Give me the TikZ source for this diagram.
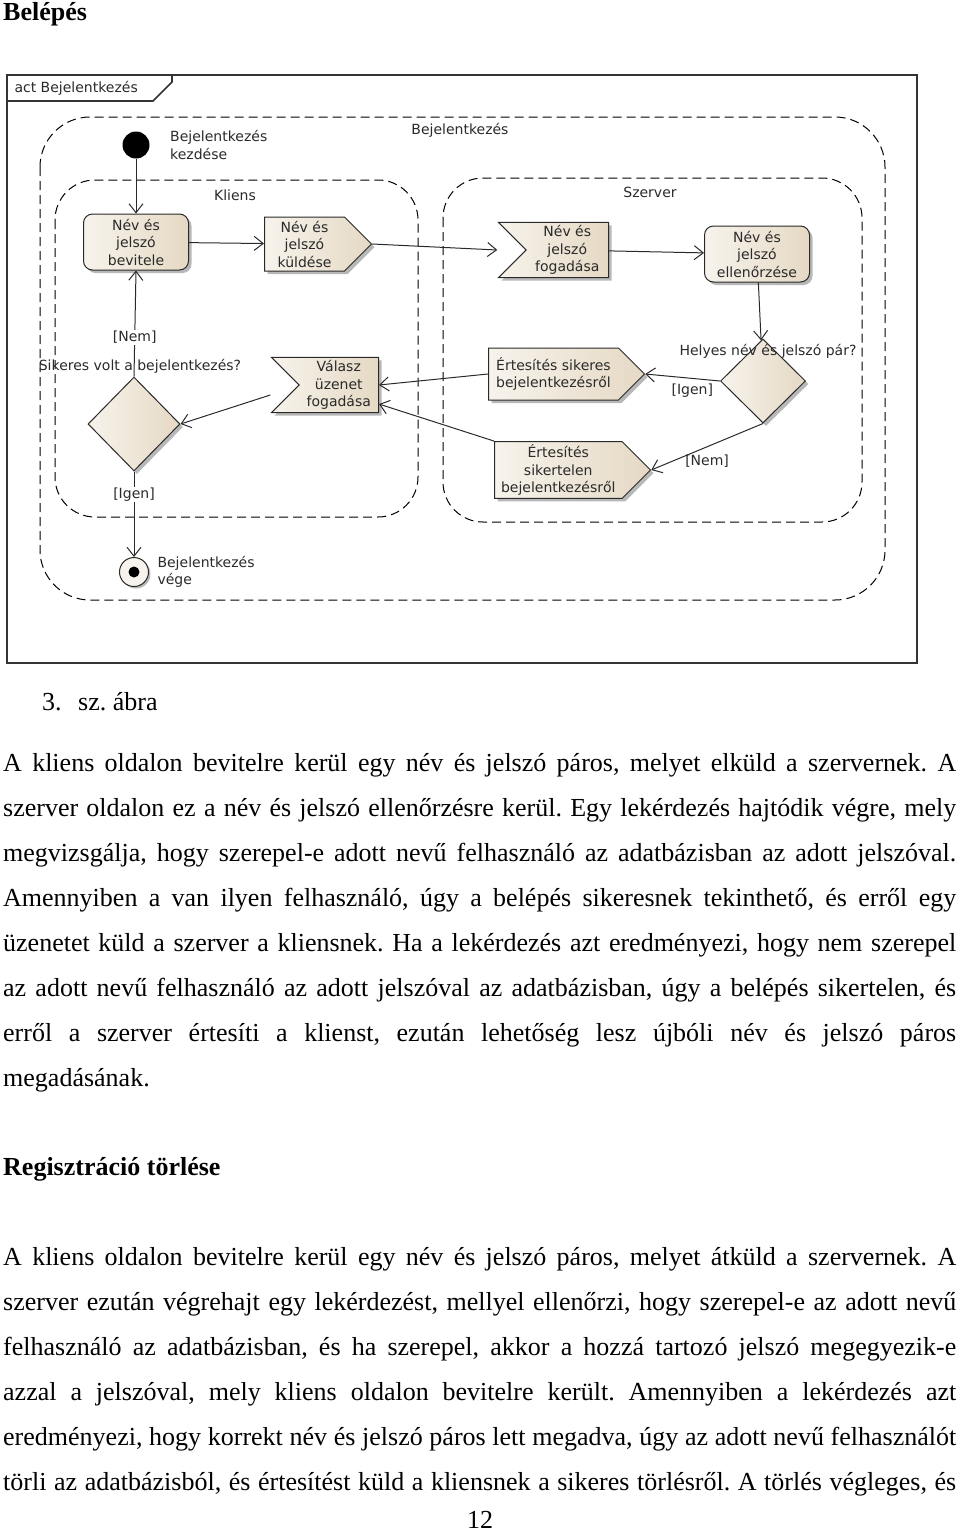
\documentclass[tikz,border=0pt]{standalone}
\usepackage{fontspec}
\setmainfont{Liberation Serif}
\newfontfamily\umlfont{DejaVu Sans}
\usetikzlibrary{arrows.meta,positioning,shapes.geometric,shapes.symbols,shadows,calc}

\definecolor{umlcream}{HTML}{F7F3EC}
\definecolor{umlbeige}{HTML}{E5D9C4}
\definecolor{umlshadow}{HTML}{B8B8B8}
\definecolor{umlline}{HTML}{2A2A2A}

\newcommand\bodyfont{\fontsize{26}{45}\selectfont}
\frenchspacing

\tikzset{
	umltext/.style={font=\umlfont\fontsize{14}{17.5}\selectfont, text=umlline},
	shaded/.style={left color=umlcream, right color=umlbeige, draw=umlline, line width=1pt,
		drop shadow={shadow xshift=3pt, shadow yshift=-3pt, fill=umlshadow, opacity=1}},
	activity/.style={shaded, umltext, rectangle, rounded corners=9pt, minimum width=105pt, minimum height=56pt, align=center, inner sep=2pt},
	sendsig/.style={shaded, umltext, signal, signal to=east, signal pointer angle=90, minimum height=54pt, align=center, inner sep=3pt},
	acceptsig/.style={shaded, umltext, signal, signal from=west, signal to=nowhere, signal pointer angle=90, minimum height=55pt, align=center, inner sep=3pt},
	decision/.style={shaded, diamond, minimum width=85pt, minimum height=84pt, inner sep=0pt},
	initial/.style={circle, fill=black, minimum size=27pt, inner sep=0pt},
	final/.style={circle, draw=umlline, line width=1pt, fill=umlcream, minimum size=29pt, inner sep=0pt,
		drop shadow={shadow xshift=2pt, shadow yshift=-2pt, fill=umlshadow, opacity=1},
		path picture={\fill[black] (path picture bounding box.center) circle (5.5pt);}},
	flow/.style={-{Straight Barb[length=9pt,width=14pt]}, line width=1pt, draw=umlline},
	guard/.style={umltext, fill=white, inner sep=1pt},
	region/.style={draw=black, line width=1pt, dash pattern=on 9pt off 5pt, rounded corners=40pt},
	framebox/.style={draw=black!80, line width=1.6pt},
	bodyline/.style={anchor=base west, inner sep=0pt, font=\bodyfont},
}

\begin{document}
\begin{tikzpicture}[x=1pt,y=-1pt]
	\useasboundingbox (0,0) rectangle (960,1532);

	\node[bodyline,font=\bodyfont\bfseries] (cim1) at (3,20) {Belépés};

	% keret
	\draw[framebox] (7,75) rectangle (917,663);
	\draw[framebox] (7,101) -- (153,101) -- (172,82) -- (172,75);
	\node[umltext,anchor=west] (actlbl) at (11,88) {act Bejelentkezés};

	% particiok
	\draw[region,rounded corners=50pt] (40,117) rectangle (885,600);
	\draw[region] (55,180) rectangle (418,517);
	\draw[region] (443,178) rectangle (862,522);
	\node[umltext] (bejlbl) at (460,130) {Bejelentkezés};
	\node[umltext] (klienslbl) at (235,195) {Kliens};
	\node[umltext] (szerverlbl) at (650,192) {Szerver};

	% csomopontok
	\node[initial] (start) at (136,145) {};
	\node[umltext,right=17pt of start,align=left] (startlbl) {Bejelentkezés\\kezdése};
	\node[activity] (bevitele) at (136,242) {Név és\\jelszó\\bevitele};
	\node[sendsig,minimum width=107pt,anchor=west] (kuldes) at (264,244) {Név és\\jelszó\\küldése};
	\node[acceptsig,minimum width=110pt,anchor=east] (fogadas) at (609,250) {Név és\\jelszó\\fogadása};
	\node[activity] (ellenorzes) at (757,254) {Név és\\jelszó\\ellenőrzése};
	\node[decision] (helyes) at (763,381) {};
	\node[umltext] (helyeslbl) at (768,351) {Helyes név és jelszó pár?};
	\node[sendsig,minimum width=156pt,minimum height=52pt,align=left,anchor=west] (sikeres) at (488,374) {Értesítés sikeres\\bejelentkezésről};
	\node[sendsig,minimum width=156pt,anchor=west] (sikertelen) at (494,470) {Értesítés\\sikertelen\\bejelentkezésről};
	\node[acceptsig,minimum width=107pt,anchor=east] (valasz) at (379,385) {Válasz\\üzenet\\fogadása};
	\node[decision,minimum width=92pt,minimum height=94pt] (dontes) at (134,424) {};
	\node[final] (vege) at (134,572) {};
	\node[umltext,right=5pt of vege,align=left] (vegelbl) {Bejelentkezés\\vége};

	% folyamok
	\draw[flow] (start) -- (bevitele);
	\draw[flow] (bevitele) -- (kuldes);
	\draw[flow] (kuldes.east) -- (fogadas.north west |- fogadas.west);
	\draw[flow] (fogadas) -- (ellenorzes);
	\draw[flow] (ellenorzes) -- (helyes);
	\draw[flow] (helyes.west) -- node[umltext,below=2pt,pos=0.37] (igen1) {[Igen]} (sikeres.east);
	\draw[flow] (helyes.south) -- node[umltext,below=4pt,pos=0.5] (nem1) {[Nem]} (sikertelen.east);
	\draw[flow] (sikeres.west) -- (valasz.east);
	\draw[flow] (sikertelen.north west) -- ([yshift=8pt]valasz.south east);
	\draw[flow] ($(valasz.north west |- valasz.west)+(0,10)$) -- (dontes.east);
	\draw[flow] (dontes.north) -- node[guard,pos=0.37] (nem2) {[Nem]} (bevitele.south);
	\draw[flow] (dontes.south) -- node[guard,pos=0.27] (igen2) {[Igen]} (vege.north);
	\node[umltext] (donteslbl) at (140,366) {Sikeres volt a bejelentkezés?};

	% szoveg
	\node[bodyline] (abraszam) at (42,710) {3.};
	\node[bodyline] (abracim) at (78,710) {sz. ábra};

	\foreach \txt [count=\i from 0] in {
		{A kliens oldalon bevitelre kerül egy név és jelszó páros, melyet elküld a szervernek. A},
		{szerver oldalon ez a név és jelszó ellenőrzésre kerül. Egy lekérdezés hajtódik végre, mely},
		{megvizsgálja, hogy szerepel-e adott nevű felhasználó az adatbázisban az adott jelszóval.},
		{Amennyiben a van ilyen felhasználó, úgy a belépés sikeresnek tekinthető, és erről egy},
		{üzenetet küld a szerver a kliensnek. Ha a lekérdezés azt eredményezi, hogy nem szerepel},
		{az adott nevű felhasználó az adott jelszóval az adatbázisban, úgy a belépés sikertelen, és},
		{erről a szerver értesíti a klienst, ezután lehetőség lesz újbóli név és jelszó páros}}
		\node[bodyline] (sor\i) at (3,{771+45*\i}) {\hbox to 953pt{\txt}};
	\node[bodyline] (sor7) at (3,1086) {megadásának.};

	\node[bodyline,font=\bodyfont\bfseries] (cim2) at (3,1175) {Regisztráció törlése};

	\foreach \txt [count=\i from 0] in {
		{A kliens oldalon bevitelre kerül egy név és jelszó páros, melyet átküld a szervernek. A},
		{szerver ezután végrehajt egy lekérdezést, mellyel ellenőrzi, hogy szerepel-e az adott nevű},
		{felhasználó az adatbázisban, és ha szerepel, akkor a hozzá tartozó jelszó megegyezik-e},
		{azzal a jelszóval, mely kliens oldalon bevitelre került. Amennyiben a lekérdezés azt},
		{eredményezi, hogy korrekt név és jelszó páros lett megadva, úgy az adott nevű felhasználót},
		{törli az adatbázisból, és értesítést küld a kliensnek a sikeres törlésről. A törlés végleges, és}}
		\node[bodyline] (tsor\i) at (3,{1265+45*\i}) {\hbox to 953pt{\txt}};

	\node[bodyline,anchor=base] (oldalszam) at (480,1528) {12};
\end{tikzpicture}
\end{document}
